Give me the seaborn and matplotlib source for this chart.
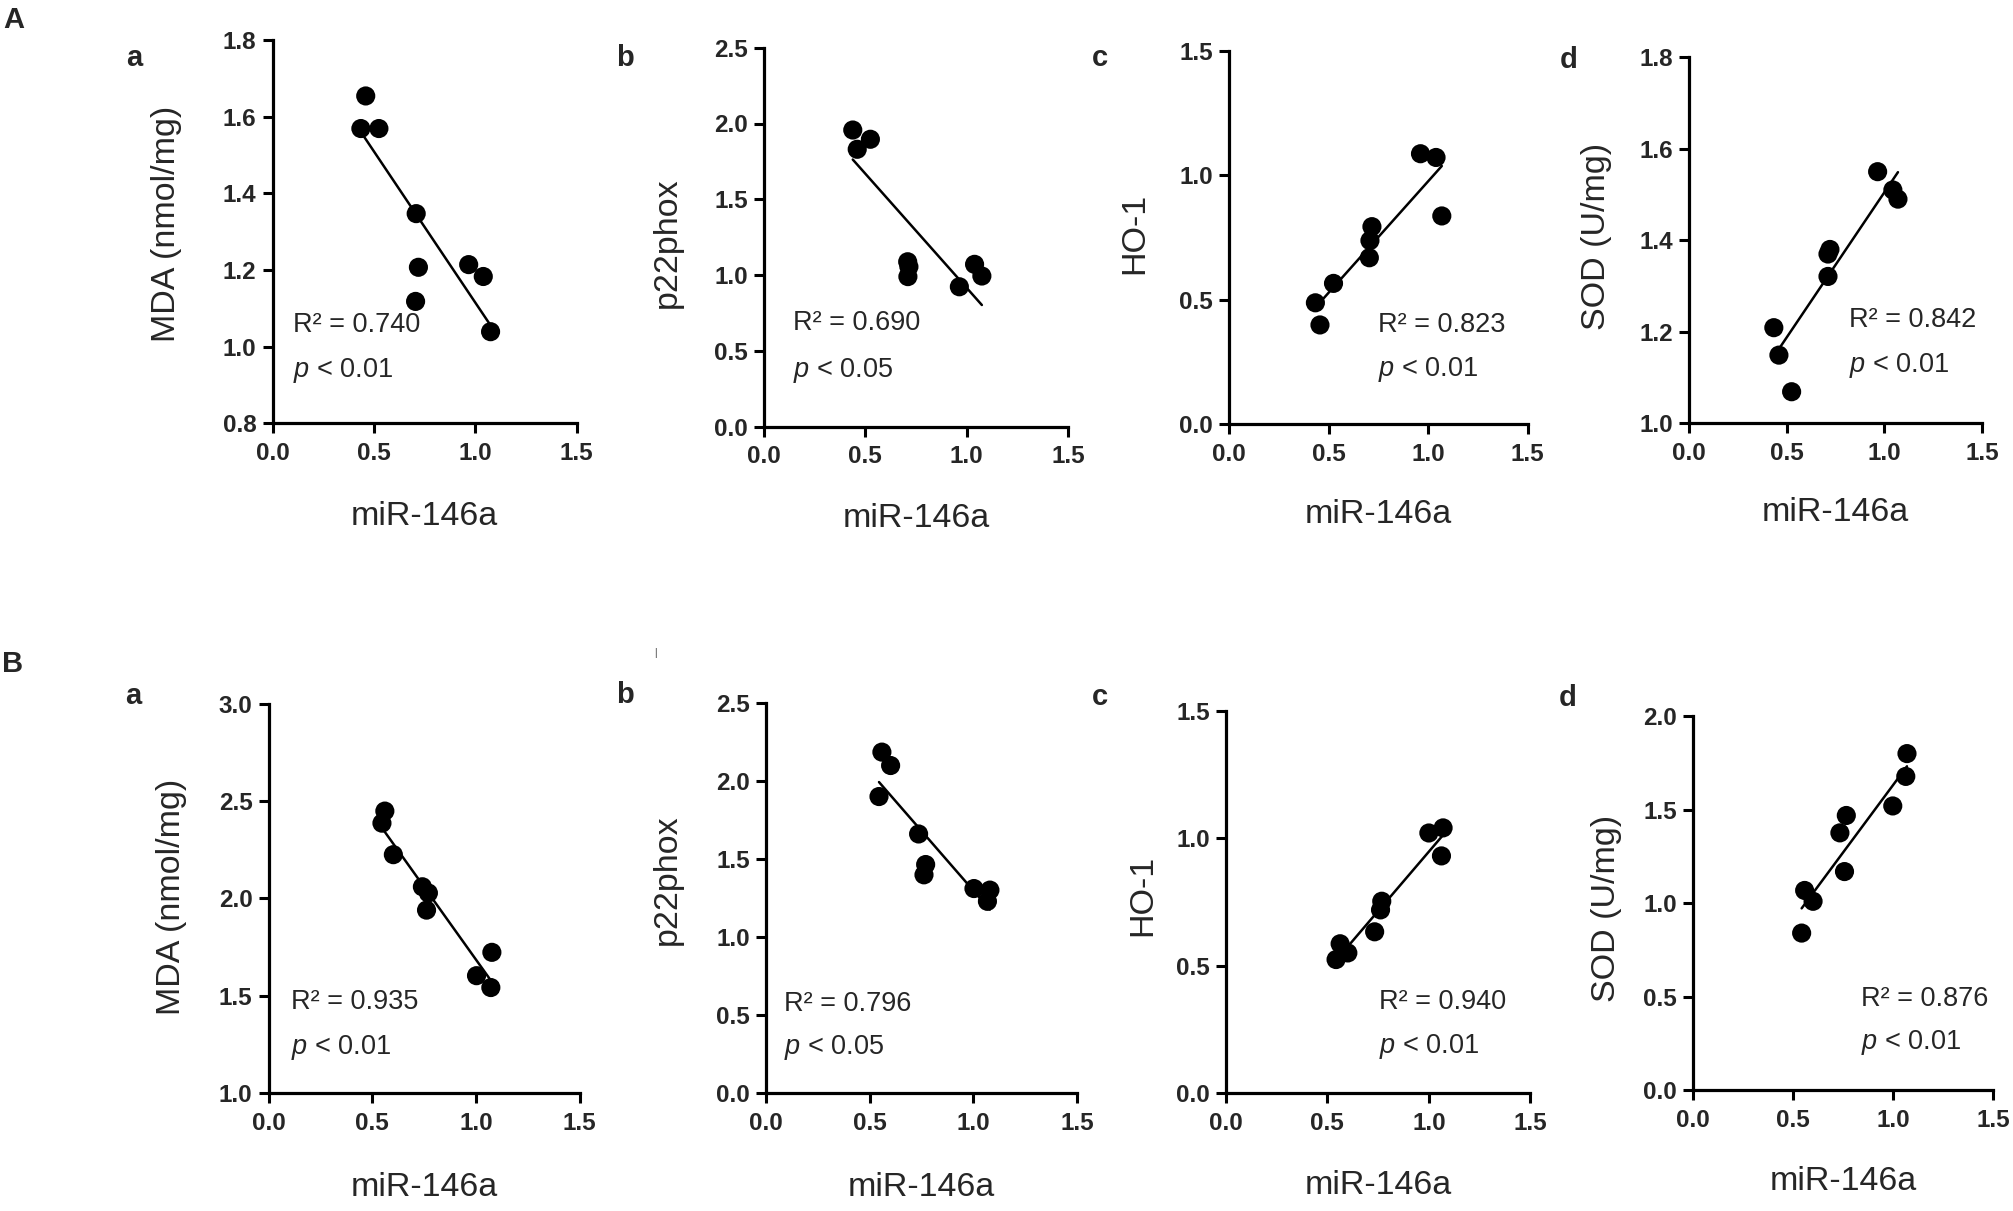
import numpy as np
import pandas as pd
import matplotlib
matplotlib.use("Agg")
import matplotlib.pyplot as plt
import seaborn as sns

# --- data (miR-146a vs oxidative markers) ---
Aa_x = [0.436, 0.46, 0.525, 0.709, 0.72, 0.706, 0.968, 1.04, 1.076]
Aa_y = [1.569, 1.654, 1.569, 1.347, 1.207, 1.118, 1.214, 1.183, 1.039]
Ab_x = [0.438, 0.46, 0.525, 0.709, 0.715, 0.71, 0.964, 1.039, 1.075]
Ab_y = [1.957, 1.83, 1.896, 1.088, 1.055, 0.99, 0.923, 1.071, 0.994]
Ac_x = [0.434, 0.457, 0.525, 0.718, 0.708, 0.705, 0.962, 1.04, 1.069]
Ac_y = [0.487, 0.398, 0.565, 0.793, 0.737, 0.668, 1.086, 1.071, 0.836]
Ad_x = [0.434, 0.46, 0.525, 0.711, 0.721, 0.711, 0.965, 1.043, 1.069]
Ad_y = [1.209, 1.149, 1.069, 1.370, 1.380, 1.321, 1.550, 1.510, 1.490]

Ba_x = [0.561, 0.547, 0.602, 0.742, 0.771, 0.762, 1.003, 1.077, 1.072]
Ba_y = [2.448, 2.386, 2.224, 2.059, 2.027, 1.939, 1.602, 1.722, 1.541]
Bb_x = [0.559, 0.601, 0.545, 0.736, 0.770, 0.762, 1.003, 1.080, 1.068]
Bb_y = [2.185, 2.099, 1.900, 1.660, 1.464, 1.398, 1.310, 1.300, 1.228]
Bc_x = [0.543, 0.563, 0.601, 0.733, 0.762, 0.768, 1.0, 1.070, 1.062]
Bc_y = [0.524, 0.586, 0.55, 0.633, 0.719, 0.753, 1.021, 1.041, 0.931]
Bd_x = [0.543, 0.558, 0.6, 0.734, 0.766, 0.757, 0.998, 1.063, 1.069]
Bd_y = [0.841, 1.069, 1.011, 1.377, 1.470, 1.170, 1.521, 1.679, 1.801]

ylabels = ["MDA (nmol/mg)", "p22phox", "HO-1", "SOD (U/mg)"]
r2_A = ["0.740", "0.690", "0.823", "0.842"]
p_A = ["0.01", "0.05", "0.01", "0.01"]
r2_B = ["0.935", "0.796", "0.940", "0.876"]
p_B = ["0.01", "0.05", "0.01", "0.01"]
ylims_A = [(0.8, 1.8, 0.2), (0.0, 2.5, 0.5), (0.0, 1.5, 0.5), (1.0, 1.8, 0.2)]
ylims_B = [(1.0, 3.0, 0.5), (0.0, 2.5, 0.5), (0.0, 1.5, 0.5), (0.0, 2.0, 0.5)]
xticks = [0.0, 0.5, 1.0, 1.5]

sns.set_style("ticks")
plt.rcParams['font.family'] = ['Liberation Sans', 'DejaVu Sans']
plt.rcParams['mathtext.fontset'] = 'custom'
plt.rcParams['mathtext.rm'] = 'Liberation Sans'
plt.rcParams['mathtext.it'] = 'Liberation Sans:italic'

W, H = 2013, 1211
fig = plt.figure(figsize=(W / 100, H / 100), dpi=100)

# axes boxes in pixels: left, right, top, bottom
boxes_A = [(272.5, 576.5, 40, 423.3), (764, 1068, 47.7, 426.7),
           (1229, 1527.6, 50.7, 424), (1689, 1982.2, 57.3, 423.3)]
boxes_B = [(268.5, 579.6, 703.7, 1092.8), (766, 1077, 703, 1092.8),
           (1225.8, 1530.4, 711, 1093), (1692.9, 1993.3, 716.4, 1090.3)]
text_A = [(0.067, 0.256, 0.138), (0.094, 0.274, 0.149), (0.50, 0.265, 0.145), (0.544, 0.282, 0.159)]
text_B = [(0.072, 0.233, 0.116), (0.058, 0.228, 0.116), (0.503, 0.238, 0.123), (0.558, 0.245, 0.129)]
ylab_A = [(-0.35, 0.52), (-0.317, 0.486), (-0.315, 0.51), (-0.314, 0.51)]
ylab_B = [(-0.312, 0.504), (-0.317, 0.546), (-0.273, 0.516), (-0.287, 0.487)]

rows = [
    ([(Aa_x, Aa_y), (Ab_x, Ab_y), (Ac_x, Ac_y), (Ad_x, Ad_y)], boxes_A, ylims_A, r2_A, p_A, text_A, ylab_A),
    ([(Ba_x, Ba_y), (Bb_x, Bb_y), (Bc_x, Bc_y), (Bd_x, Bd_y)], boxes_B, ylims_B, r2_B, p_B, text_B, ylab_B),
]

for data, boxes, ylims, r2s, ps, txt, ylab in rows:
    for i in range(4):
        l, r, t, b = boxes[i]
        ax = fig.add_axes([l / W, 1 - b / H, (r - l) / W, (b - t) / H])
        df = pd.DataFrame({"miR": data[i][0], "val": data[i][1]})
        sns.regplot(data=df, x="miR", y="val", ax=ax, ci=None, truncate=True,
                    scatter_kws=dict(s=190, color="black", edgecolor="none", alpha=1, clip_on=False),
                    line_kws=dict(color="black", lw=1.8))
        lo, hi, step = ylims[i]
        ax.set_xlim(0, 1.5)
        ax.set_ylim(lo, hi)
        ax.set_xticks(xticks)
        ax.set_yticks(np.arange(lo, hi + step / 2, step))
        ax.xaxis.set_major_formatter(matplotlib.ticker.FormatStrFormatter('%.1f'))
        ax.yaxis.set_major_formatter(matplotlib.ticker.FormatStrFormatter('%.1f'))
        sns.despine(ax=ax)
        for sp in ["left", "bottom"]:
            ax.spines[sp].set_linewidth(2.3)
            ax.spines[sp].set_color("black")
        ax.tick_params(axis="both", which="major", direction="out", length=7.5, width=2.2,
                       color="black", labelsize=17.5)
        ax.tick_params(axis="x", pad=6)
        ax.tick_params(axis="y", pad=4)
        for lab in ax.get_xticklabels() + ax.get_yticklabels():
            lab.set_fontweight("bold")
        ax.set_xlabel("miR-146a", fontsize=24.5)
        ax.xaxis.label.set_va("center")
        ax.xaxis.set_label_coords(0.5, -0.243)
        ax.set_ylabel(ylabels[i], fontsize=24.5)
        ax.yaxis.label.set_va("center")
        ax.yaxis.set_label_coords(ylab[i][0], ylab[i][1])
        tx, ty1, ty2 = txt[i]
        ax.text(tx, ty1, f"R² = {r2s[i]}", transform=ax.transAxes, fontsize=19.5, va="center", ha="left")
        ax.text(tx, ty2, r"$\it{p}$ < " + ps[i], transform=ax.transAxes, fontsize=19.5, va="center", ha="left")

# panel letters
fig.text(13.5 / W, 1 - 20 / H, "A", fontsize=21, fontweight="bold", ha="center", va="center")
fig.text(12.5 / W, 1 - 663.6 / H, "B", fontsize=21, fontweight="bold", ha="center", va="center")
letters = ["a", "b", "c", "d"]
pos_A = [(134, 58.5), (624.6, 58.5), (1100, 58.5), (1568.5, 60)]
pos_B = [(133, 696), (625, 694.6), (1100, 697), (1568, 698)]
for k in range(4):
    fig.text(pos_A[k][0] / W, 1 - pos_A[k][1] / H, letters[k], fontsize=21, fontweight="bold", ha="center", va="center")
    fig.text(pos_B[k][0] / W, 1 - pos_B[k][1] / H, letters[k], fontsize=21, fontweight="bold", ha="center", va="center")
fig.text(655 / W, 1 - 653 / H, "|", fontsize=7, color="#333333", ha="center", va="center")

fig.savefig("out.png", dpi=100)
